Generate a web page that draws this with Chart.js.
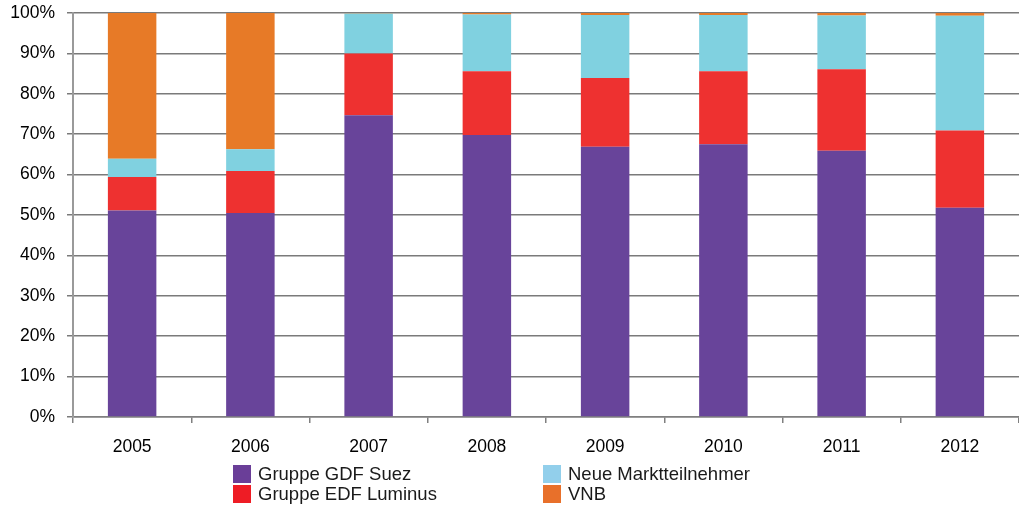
<!DOCTYPE html>
<html><head><meta charset="utf-8">
<script src="https://cdn.jsdelivr.net/npm/chart.js@4/dist/chart.umd.min.js"></script>
<style>
html,body{margin:0;padding:0;background:#fff;}
#wrap{position:relative;width:1019px;height:509px;overflow:hidden;}
canvas{position:absolute;left:0;top:0;}
.lg{position:absolute;font-family:"Liberation Sans",Arial,sans-serif;font-size:18.5px;color:#1a1a1a;white-space:nowrap;line-height:18px;}
.sw{position:absolute;width:18px;height:18px;}
</style>
</head><body>
<div id="wrap"><canvas id="c" width="1019" height="509"></canvas></div>
<script>
const years = ['2005','2006','2007','2008','2009','2010','2011','2012'];
const seriesNames = ['Gruppe GDF Suez','Gruppe EDF Luminus','Neue Marktteilnehmer','VNB'];
const gdfSuez = [51.1, 50.5, 74.7, 69.8, 66.9, 67.5, 65.9, 51.8];
const edfLuminus = [8.3, 10.4, 15.3, 15.8, 17.0, 18.1, 20.2, 19.1];
const neueMarkt = [4.5, 5.4, 9.9, 14.0, 15.6, 13.9, 13.3, 28.4];
const vnb = [36.1, 33.7, 0.1, 0.4, 0.5, 0.5, 0.6, 0.7];
const yTicks = [0,10,20,30,40,50,60,70,80,90,100];

const barColors = ['#68449A','#EE3130','#80D1E0','#E77A27'];
const legendColors = ['#6A3E98','#EE1C25','#92CFEB','#E8702A'];
const values = [gdfSuez, edfLuminus, neueMarkt, vnb];

const ff = '"Liberation Sans", Arial, sans-serif';
new Chart(document.getElementById('c'), {
  type: 'bar',
  data: {
    labels: years,
    datasets: seriesNames.map((n,i)=>({
      label: n, data: values[i], backgroundColor: barColors[i],
      borderWidth: 0, barPercentage: 0.41, categoryPercentage: 1
    }))
  },
  options: {
    responsive: false, animation: false,
    layout: {padding: {top: 13, left: 0, right: 0, bottom: 0}},
    plugins: {legend: {display: false}, tooltip: {enabled: false}},
    scales: {
      x: {
        stacked: true,
        grid: {offset: true, drawOnChartArea: false, drawTicks: true, tickLength: 6, color: '#808080', lineWidth: 1.5},
        border: {color: '#808080', width: 1.5},
        ticks: {font: {family: ff, size: 17.5}, color: '#000', padding: 14, maxRotation: 0},
        afterFit: s => { s.height = 92; s.paddingLeft = 0; s.paddingRight = 0; }
      },
      y: {
        stacked: true, min: 0, max: 100,
        afterBuildTicks: s => { s.ticks = yTicks.map(v=>({value:v})); },
        grid: {color: '#7a7a7a', lineWidth: 1.5, tickLength: 6},
        border: {color: '#9a9a9a', width: 2},
        ticks: {font: {family: ff, size: 17.5}, color: '#000', padding: 12, callback: v => v + '%'},
        afterFit: s => { s.width = 73; s.paddingTop = 0; s.paddingBottom = 0; }
      }
    }
  }
});

// legend (two columns, column-major)
const wrap = document.getElementById('wrap');
const colX = [233, 543], rowY = [465, 485];
seriesNames.forEach((n,i)=>{
  const c = Math.floor(i/2), r = i%2;
  const sw = document.createElement('div');
  sw.className = 'sw'; sw.style.left = colX[c]+'px'; sw.style.top = rowY[r]+'px';
  sw.style.background = legendColors[i];
  wrap.appendChild(sw);
  const t = document.createElement('div');
  t.className = 'lg'; t.textContent = n;
  t.style.left = (colX[c]+25)+'px'; t.style.top = (rowY[r])+'px';
  wrap.appendChild(t);
});
</script>
</body></html>
